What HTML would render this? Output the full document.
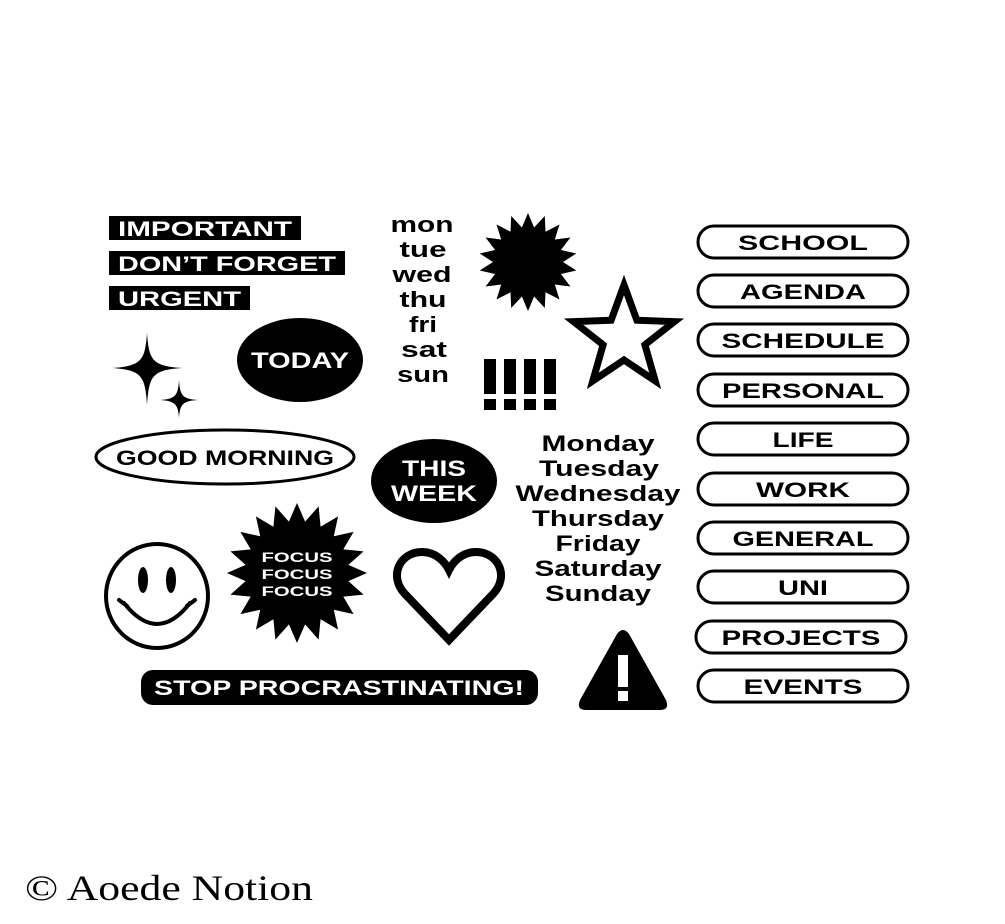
<!DOCTYPE html>
<html><head><meta charset="utf-8"><style>
html,body{margin:0;padding:0;background:#fff}
svg{display:block}
text{font-family:"Liberation Sans",Arial,sans-serif;font-weight:bold}
</style></head><body>
<svg id="s" width="1005" height="924" viewBox="0 0 1005 924" xmlns="http://www.w3.org/2000/svg">
<rect width="1005" height="924" fill="#fff"/>
<rect x="109" y="216" width="192" height="24" fill="#000"/>
<text x="118" y="236" font-size="21" fill="#fff" textLength="174" lengthAdjust="spacingAndGlyphs">IMPORTANT</text>
<rect x="109" y="251" width="236" height="24" fill="#000"/>
<text x="118" y="271" font-size="21" fill="#fff" textLength="218" lengthAdjust="spacingAndGlyphs">DON’T FORGET</text>
<rect x="109" y="286" width="141" height="24" fill="#000"/>
<text x="118" y="306" font-size="21" fill="#fff" textLength="123" lengthAdjust="spacingAndGlyphs">URGENT</text>
<path d="M147,333 C149,360 152,366 182,368 C152,370 149,376 147,405 C145,376 142,370 112,368 C142,366 145,360 147,333Z" fill="#000"/>
<path d="M179,380 C180,395 182,399 198,400 C182,401 180,405 179,418 C178,405 176,401 160,400 C176,399 178,395 179,380Z" fill="#000"/>
<ellipse cx="300" cy="360" rx="63" ry="42" fill="#000"/>
<text x="300" y="368" font-size="22" fill="#fff" text-anchor="middle" textLength="98" lengthAdjust="spacingAndGlyphs">TODAY</text>
<ellipse cx="225" cy="457" rx="129" ry="27" fill="none" stroke="#000" stroke-width="3"/>
<text x="225" y="465" font-size="21" text-anchor="middle" textLength="218" lengthAdjust="spacingAndGlyphs">GOOD MORNING</text>
<g font-size="22" text-anchor="middle" lengthAdjust="spacingAndGlyphs">
<text x="422" y="232" textLength="63" lengthAdjust="spacingAndGlyphs">mon</text>
<text x="423" y="257" textLength="47" lengthAdjust="spacingAndGlyphs">tue</text>
<text x="422" y="282" textLength="59" lengthAdjust="spacingAndGlyphs">wed</text>
<text x="423" y="307" textLength="47" lengthAdjust="spacingAndGlyphs">thu</text>
<text x="423" y="332" textLength="28" lengthAdjust="spacingAndGlyphs">fri</text>
<text x="424" y="357" textLength="46" lengthAdjust="spacingAndGlyphs">sat</text>
<text x="423" y="382" textLength="52" lengthAdjust="spacingAndGlyphs">sun</text>
</g>
<polygon id="b1" fill="#000"/>
<polygon id="b2" fill="#000"/>
<polygon id="st" fill="none" stroke="#000" stroke-width="7" stroke-linejoin="miter"/>
<g fill="#000">
<rect x="484" y="359" width="12" height="35"/><rect x="484" y="399" width="12" height="11"/>
<rect x="504" y="359" width="12" height="35"/><rect x="504" y="399" width="12" height="11"/>
<rect x="524" y="359" width="12" height="35"/><rect x="524" y="399" width="12" height="11"/>
<rect x="544" y="359" width="12" height="35"/><rect x="544" y="399" width="12" height="11"/>
</g>
<ellipse cx="434" cy="481" rx="63" ry="42" fill="#000"/>
<text x="434" y="476" font-size="22" fill="#fff" text-anchor="middle" textLength="64" lengthAdjust="spacingAndGlyphs">THIS</text>
<text x="434" y="501" font-size="22" fill="#fff" text-anchor="middle" textLength="86" lengthAdjust="spacingAndGlyphs">WEEK</text>
<g font-size="22" text-anchor="middle">
<text x="598" y="451" textLength="113" lengthAdjust="spacingAndGlyphs">Monday</text>
<text x="599" y="476" textLength="120" lengthAdjust="spacingAndGlyphs">Tuesday</text>
<text x="598" y="501" textLength="165" lengthAdjust="spacingAndGlyphs">Wednesday</text>
<text x="598" y="526" textLength="132" lengthAdjust="spacingAndGlyphs">Thursday</text>
<text x="598" y="551" textLength="85" lengthAdjust="spacingAndGlyphs">Friday</text>
<text x="598" y="576" textLength="127" lengthAdjust="spacingAndGlyphs">Saturday</text>
<text x="598" y="601" textLength="106" lengthAdjust="spacingAndGlyphs">Sunday</text>
</g>
<g id="pills" font-size="21" text-anchor="middle"></g>
<ellipse cx="157" cy="596" rx="51" ry="52" fill="none" stroke="#000" stroke-width="4"/>
<ellipse cx="143" cy="580" rx="5" ry="13" fill="#000"/>
<ellipse cx="171" cy="580" rx="5" ry="13" fill="#000"/>
<path d="M124,603 Q157,645 190,603" fill="none" stroke="#000" stroke-width="4" stroke-linecap="round"/>
<path d="M119,600 L127,606 M195,600 L187,606" stroke="#000" stroke-width="4" stroke-linecap="round"/>
<g font-size="14" fill="#fff" text-anchor="middle">
<text x="297" y="562" textLength="71" lengthAdjust="spacingAndGlyphs">FOCUS</text>
<text x="297" y="579" textLength="71" lengthAdjust="spacingAndGlyphs">FOCUS</text>
<text x="297" y="596" textLength="71" lengthAdjust="spacingAndGlyphs">FOCUS</text>
</g>
<path d="M449,640 L405,594 C388,576 400,552 422,552 C436,552 445,562 449,570 C453,562 462,552 476,552 C498,552 510,576 493,594 Z" fill="none" stroke="#000" stroke-width="8" stroke-linejoin="miter"/>
<rect x="141" y="670" width="397" height="35" rx="12" fill="#000"/>
<text x="339" y="695" font-size="21" fill="#fff" text-anchor="middle" textLength="370" lengthAdjust="spacingAndGlyphs">STOP PROCRASTINATING!</text>
<path d="M617,634 Q623,626 629,634 L666,700 Q670,710 660,710 L586,710 Q576,710 580,700 Z" fill="#000"/>
<rect x="618" y="655" width="10" height="32" fill="#fff"/><rect x="618" y="691" width="10" height="10" fill="#fff"/>
<text x="25" y="900" font-size="36" textLength="288" lengthAdjust="spacingAndGlyphs" style="font-family:'Liberation Serif',serif;font-weight:normal">© Aoede Notion</text>
</svg>
<script>
function burst(cx,cy,ro,ri,n){var p=[];for(var i=0;i<2*n;i++){var a=Math.PI*i/n-Math.PI/2;var r=i%2?ri:ro;p.push((cx+r*Math.cos(a)).toFixed(1)+","+(cy+r*Math.sin(a)).toFixed(1));}return p.join(" ");}
document.getElementById("b1").setAttribute("points",burst(528,262,49,35,18));
document.getElementById("b2").setAttribute("points",burst(297,573,70,52,20));
document.getElementById("st").setAttribute("points",burst(624,338,53,22,5));
var labels=["SCHOOL","AGENDA","SCHEDULE","PERSONAL","LIFE","WORK","GENERAL","UNI","PROJECTS","EVENTS"];
var wl=[130,126,163,162,61,94,141,50,159,119];
var ys=[242,291,340,390,439,489,538,587,637,686];
var g=document.getElementById("pills"),h="";
for(var i=0;i<10;i++){var x=i==8?696:698;
h+='<rect x="'+x+'" y="'+(ys[i]-16)+'" width="210" height="32" rx="16" fill="none" stroke="#000" stroke-width="3"/>';
h+='<text x="'+(x+105)+'" y="'+(ys[i]+8)+'" textLength="'+wl[i]+'" lengthAdjust="spacingAndGlyphs">'+labels[i]+'</text>';}
g.innerHTML=h;
</script>
</body></html>
